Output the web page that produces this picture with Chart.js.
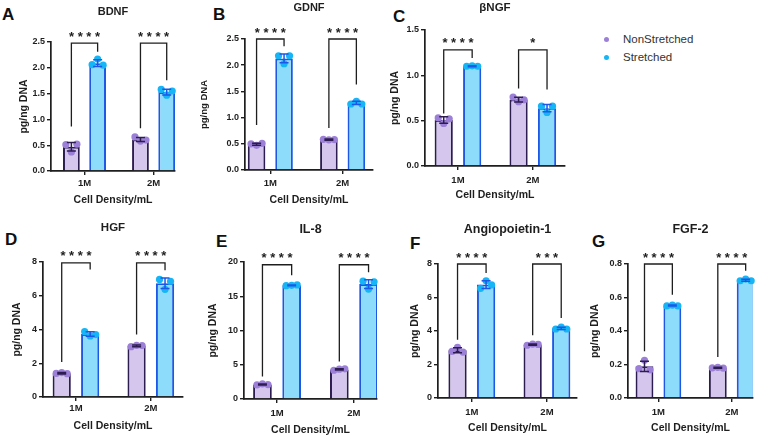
<!DOCTYPE html>
<html>
<head>
<meta charset="utf-8">
<script src="https://cdn.jsdelivr.net/npm/chart.js@4.4.1/dist/chart.umd.min.js"></script>
<style>
  body { margin: 0; width: 764px; height: 438px; position: relative; overflow: hidden; background: #fff;
         font-family: "Liberation Sans", Arial, sans-serif; }
  canvas { position: absolute; }
  .tag { position: absolute; font-weight: bold; font-size: 17px; line-height: 17px; color: #111; }
  .key { position: absolute; left: 604px; height: 16px; line-height: 16px; padding-left: 19px;
         font-size: 11.5px; color: #333; }
  .key span { position: absolute; left: 0; top: 5.5px; width: 5px; height: 5px; border-radius: 50%; }
</style>
</head>
<body>
<script>
const categories = ['1M', '2M'];
const groups = ['NonStretched', 'Stretched'];

// A - BDNF
const bdnfNon = [0.47, 0.61];
const bdnfStr = [2.09, 1.53];
const bdnfNonSd = [0.08, 0.04];
const bdnfStrSd = [0.065, 0.055];
const bdnfNonPts = [[0.51, 0.37, 0.52], [0.66, 0.58, 0.60]];
const bdnfStrPts = [[2.06, 2.17, 2.05], [1.58, 1.47, 1.55]];
const bdnfTicks = ['0.0', '0.5', '1.0', '1.5', '2.0', '2.5'];
const bdnfSig = ['****', '****'];
const bdnfBrackets = [[0.86, 2.31, 2.48], [0.83, 1.76, 2.48]];

// B - GDNF
const gdnfNon = [0.49, 0.58];
const gdnfStr = [2.13, 1.28];
const gdnfNonSd = [0.02, 0.01];
const gdnfStrSd = [0.085, 0.03];
const gdnfNonPts = [[0.50, 0.47, 0.51], [0.585, 0.575, 0.58]];
const gdnfStrPts = [[2.18, 2.03, 2.18], [1.26, 1.31, 1.26]];
const gdnfTicks = ['0.0', '0.5', '1.0', '1.5', '2.0', '2.5'];
const gdnfSig = ['****', '****'];
const gdnfBrackets = [[0.86, 2.36, 2.5], [0.80, 1.63, 2.5]];

// C - βNGF
const ngfNon = [0.507, 0.733];
const ngfStr = [1.10, 0.637];
const ngfNonSd = [0.035, 0.026];
const ngfStrSd = [0.005, 0.04];
const ngfNonPts = [[0.53, 0.47, 0.52], [0.76, 0.71, 0.73]];
const ngfStrPts = [[1.10, 1.105, 1.10], [0.66, 0.59, 0.66]];
const ngfTicks = ['0.0', '0.5', '1.0', '1.5'];
const ngfSig = ['****', '*'];
const ngfBrackets = [[0.58, 1.19, 1.28], [0.855, 0.845, 1.28]];

// D - HGF
const hgfNon = [1.41, 3.03];
const hgfStr = [3.73, 6.74];
const hgfNonSd = [0.04, 0.045];
const hgfStrSd = [0.13, 0.31];
const hgfNonPts = [[1.40, 1.45, 1.38], [2.98, 3.06, 3.05]];
const hgfStrPts = [[3.88, 3.62, 3.70], [6.97, 6.38, 6.86]];
const hgfTicks = ['0', '2', '4', '6', '8'];
const hgfSig = ['****', '****'];
const hgfBrackets = [[2.08, 7.55, 7.95], [3.70, 7.51, 7.95]];

// E - IL-8
const il8Non = [2.12, 4.32];
const il8Str = [16.6, 16.78];
const il8NonSd = [0.08, 0.1];
const il8StrSd = [0.05, 0.64];
const il8NonPts = [[2.05, 2.2, 2.1], [4.2, 4.35, 4.4]];
const il8StrPts = [[16.55, 16.6, 16.65], [17.2, 16.05, 17.1]];
const il8Ticks = ['0', '5', '10', '15', '20'];
const il8Sig = ['****', '****'];
const il8Brackets = [[3.3, 18.06, 19.6], [5.47, 18.5, 19.6]];

// F - Angiopoietin-1
const angNon = [2.85, 3.19];
const angStr = [6.77, 4.16];
const angNonSd = [0.15, 0.04];
const angStrSd = [0.23, 0.07];
const angNonPts = [[2.78, 3.02, 2.74], [3.15, 3.22, 3.2]];
const angStrPts = [[6.55, 7.0, 6.75], [4.12, 4.24, 4.12]];
const angTicks = ['0', '2', '4', '6', '8'];
const angSig = ['****', '***'];
const angBrackets = [[3.48, 7.46, 8.0], [3.74, 4.78, 8.0]];

// G - FGF-2
const fgfNon = [0.189, 0.18];
const fgfStr = [0.552, 0.703];
const fgfNonSd = [0.031, 0.003];
const fgfStrSd = [0.003, 0.006];
const fgfNonPts = [[0.175, 0.225, 0.168], [0.18, 0.183, 0.178]];
const fgfStrPts = [[0.55, 0.555, 0.55], [0.70, 0.71, 0.70]];
const fgfTicks = ['0.0', '0.2', '0.4', '0.6', '0.8'];
const fgfSig = ['****', '****'];
const fgfBrackets = [[0.279, 0.617, 0.80], [0.245, 0.76, 0.80]];

const ink = '#1e1e1e';
const family = '"Liberation Sans", Arial, sans-serif';
const purple = { fill: '#d4c6ec', edge: '#2c1c50', dot: '#9c80d8' };
const blue = { fill: '#8edcfb', edge: '#1c57e6', dot: '#16b5f5' };

Chart.defaults.font.family = family;
Chart.defaults.color = ink;

// where each panel sits on the page (pixels) and how its x range is framed
const panels = [
  { tag: 'A', tagX: 2, tagY: 6, title: 'BDNF', titleSize: 11, yTitleSize: 10.5,
    non: bdnfNon, str: bdnfStr, nonSd: bdnfNonSd, strSd: bdnfStrSd, nonPts: bdnfNonPts, strPts: bdnfStrPts,
    ticks: bdnfTicks, sig: bdnfSig, brackets: bdnfBrackets,
    top: 0, L: 51, T: 42, R: 175, B: 171, titleY: 12, tickY: 183, xTitleY: 200, yTitleX: 24, xMin: 0.515, xMax: 2.31 },
  { tag: 'B', tagX: 213, tagY: 6, title: 'GDNF', titleSize: 11, yTitleSize: 9.5,
    non: gdnfNon, str: gdnfStr, nonSd: gdnfNonSd, strSd: gdnfStrSd, nonPts: gdnfNonPts, strPts: gdnfStrPts,
    ticks: gdnfTicks, sig: gdnfSig, brackets: gdnfBrackets,
    top: 0, L: 245, T: 39, R: 373, B: 170, titleY: 7.5, tickY: 183, xTitleY: 200, yTitleX: 204, xMin: 0.65, xMax: 2.42 },
  { tag: 'C', tagX: 393, tagY: 8, title: 'βNGF', titleSize: 11.5, yTitleSize: 10.5,
    non: ngfNon, str: ngfStr, nonSd: ngfNonSd, strSd: ngfStrSd, nonPts: ngfNonPts, strPts: ngfStrPts,
    ticks: ngfTicks, sig: ngfSig, brackets: ngfBrackets,
    top: 0, L: 425, T: 30, R: 565, B: 166, titleY: 8, tickY: 180, xTitleY: 195, yTitleX: 395, xMin: 0.56, xMax: 2.43 },
  { tag: 'D', tagX: 5, tagY: 231, title: 'HGF', titleSize: 11.5, yTitleSize: 10.5,
    non: hgfNon, str: hgfStr, nonSd: hgfNonSd, strSd: hgfStrSd, nonPts: hgfNonPts, strPts: hgfStrPts,
    ticks: hgfTicks, sig: hgfSig, brackets: hgfBrackets,
    top: 215, L: 43, T: 262, R: 183, B: 397, titleY: 228, tickY: 408, xTitleY: 426, yTitleX: 17, xMin: 0.56, xMax: 2.43 },
  { tag: 'E', tagX: 216, tagY: 233, title: 'IL-8', titleSize: 12.5, yTitleSize: 10.5,
    non: il8Non, str: il8Str, nonSd: il8NonSd, strSd: il8StrSd, nonPts: il8NonPts, strPts: il8StrPts,
    ticks: il8Ticks, sig: il8Sig, brackets: il8Brackets,
    top: 215, L: 244, T: 262, R: 377, B: 399, titleY: 230, tickY: 413, xTitleY: 430, yTitleX: 213, xMin: 0.57, xMax: 2.30 },
  { tag: 'F', tagX: 410, tagY: 235, title: 'Angiopoietin-1', titleSize: 12.5, yTitleSize: 10.5,
    non: angNon, str: angStr, nonSd: angNonSd, strSd: angStrSd, nonPts: angNonPts, strPts: angStrPts,
    ticks: angTicks, sig: angSig, brackets: angBrackets,
    top: 215, L: 438, T: 264, R: 577, B: 398, titleY: 230, tickY: 412, xTitleY: 428, yTitleX: 415, xMin: 0.55, xMax: 2.4 },
  { tag: 'G', tagX: 592, tagY: 233, title: 'FGF-2', titleSize: 12.5, yTitleSize: 10.5,
    non: fgfNon, str: fgfStr, nonSd: fgfNonSd, strSd: fgfStrSd, nonPts: fgfNonPts, strPts: fgfStrPts,
    ticks: fgfTicks, sig: fgfSig, brackets: fgfBrackets,
    top: 215, L: 628, T: 264, R: 753, B: 398, titleY: 230, tickY: 412, xTitleY: 428, yTitleX: 595, xMin: 0.585, xMax: 2.29 },
];

// dots, error bars and significance brackets on top of the bars
const marksFor = (p) => ({
  id: 'marks',
  afterDatasetsDraw(chart) {
    const { ctx } = chart;
    const y = chart.scales.y;
    const sds = [p.nonSd, p.strSd];
    const pts = [p.nonPts, p.strPts];
    const dots = [purple.dot, blue.dot];
    ctx.save();
    chart.data.datasets.forEach((ds, d) => {
      chart.getDatasetMeta(d).data.forEach((bar, i) => {
        ctx.fillStyle = dots[d];
        pts[d][i].forEach((v, k) => {
          ctx.beginPath();
          ctx.arc(bar.x + (k - 1) * 5.5, y.getPixelForValue(v), 3.6, 0, Math.PI * 2);
          ctx.fill();
        });
        const mean = ds.data[i].y;
        const hi = y.getPixelForValue(mean + sds[d][i]);
        const lo = y.getPixelForValue(mean - sds[d][i]);
        ctx.strokeStyle = ds.borderColor;
        ctx.lineWidth = 1.5;
        ctx.beginPath();
        ctx.moveTo(bar.x, hi); ctx.lineTo(bar.x, lo);
        ctx.moveTo(bar.x - 4.5, hi); ctx.lineTo(bar.x + 4.5, hi);
        ctx.moveTo(bar.x - 4.5, lo); ctx.lineTo(bar.x + 4.5, lo);
        ctx.stroke();
      });
    });

    const left = chart.getDatasetMeta(0).data;
    const right = chart.getDatasetMeta(1).data;
    ctx.strokeStyle = ink;
    ctx.fillStyle = ink;
    ctx.lineWidth = 1.3;
    ctx.font = 'bold 13px ' + family;
    ctx.textAlign = 'center';
    ctx.textBaseline = 'alphabetic';
    p.brackets.forEach(([lo, ro, top], i) => {
      const xl = left[i].x, xr = right[i].x;
      const yt = y.getPixelForValue(top);
      ctx.beginPath();
      ctx.moveTo(xl, y.getPixelForValue(lo));
      ctx.lineTo(xl, yt);
      ctx.lineTo(xr, yt);
      ctx.lineTo(xr, y.getPixelForValue(ro));
      ctx.stroke();
      ctx.fillText(p.sig[i].split('').join(' '), (xl + xr) / 2, yt - 2.5);
    });
    ctx.restore();
  }
});

panels.forEach((p) => {
  const tag = document.createElement('div');
  tag.className = 'tag';
  tag.textContent = p.tag;
  tag.style.left = p.tagX + 'px';
  tag.style.top = p.tagY + 'px';
  document.body.appendChild(tag);

  const cx = Math.round(p.yTitleX - 8);
  const cy = p.top;
  const canvas = document.createElement('canvas');
  canvas.width = Math.round(p.R + 7 - cx);
  canvas.height = Math.round(p.xTitleY + 8.3 - cy);
  canvas.style.left = cx + 'px';
  canvas.style.top = cy + 'px';
  document.body.appendChild(canvas);

  const yw = p.L - cx;
  const xh = cy + canvas.height - p.B;
  const padRight = cx + canvas.width - p.R;
  const padTop = p.titleY - cy - 0.6 * p.titleSize;
  const titleGap = p.T - cy - padTop - 1.2 * p.titleSize;
  const yTitlePad = p.yTitleX - cx - 0.6 * p.yTitleSize;
  const yMax = Number(p.ticks[p.ticks.length - 1]);

  new Chart(canvas, {
    type: 'bar',
    data: {
      datasets: [
        { label: groups[0], data: p.non.map((v, i) => ({ x: i + 1, y: v })),
          backgroundColor: purple.fill, borderColor: purple.edge, borderWidth: 2,
          categoryPercentage: 0.76, barPercentage: 0.64 },
        { label: groups[1], data: p.str.map((v, i) => ({ x: i + 1, y: v })),
          backgroundColor: blue.fill, borderColor: blue.edge, borderWidth: 2,
          categoryPercentage: 0.76, barPercentage: 0.64 },
      ],
    },
    options: {
      responsive: false,
      animation: false,
      layout: { padding: { top: padTop, right: padRight, left: 0, bottom: 0 } },
      plugins: {
        legend: { display: false },
        tooltip: { enabled: false },
        title: {
          display: true, text: p.title, fullSize: false, color: ink,
          font: { size: p.titleSize, weight: 'bold' },
          padding: { top: 0, bottom: titleGap },
        },
      },
      scales: {
        x: {
          type: 'linear', min: p.xMin, max: p.xMax, offset: false, z: 1,
          afterBuildTicks: (axis) => { axis.ticks = categories.map((c, i) => ({ value: i + 1 })); },
          afterFit: (axis) => { axis.height = xh; },
          grid: { drawOnChartArea: false, drawTicks: true, tickLength: 4, color: ink, lineWidth: 1.4, offset: false },
          border: { display: true, color: ink, width: 1.7 },
          ticks: {
            callback: (v) => categories[v - 1], color: ink, autoSkip: false, maxRotation: 0,
            font: { size: 9.5, weight: 'bold' }, padding: p.tickY - p.B - 9.7,
          },
          title: {
            display: true, text: 'Cell Density/mL', color: ink,
            font: { size: 10.5, weight: 'bold' }, padding: { top: 0, bottom: 2 },
          },
        },
        y: {
          min: 0, max: yMax,
          afterBuildTicks: (axis) => { axis.ticks = p.ticks.map((t) => ({ value: Number(t) })); },
          afterFit: (axis) => { axis.width = yw; },
          grid: { drawOnChartArea: false, drawTicks: true, tickLength: 4, color: ink, lineWidth: 1.4 },
          border: { display: true, color: ink, width: 1.7 },
          ticks: {
            callback: (v, i) => p.ticks[i], color: ink,
            font: { size: 9, weight: 'bold' }, padding: 2,
          },
          title: {
            display: true, text: 'pg/ng DNA', color: ink,
            font: { size: p.yTitleSize, weight: 'bold' }, padding: { top: yTitlePad, bottom: 0 },
          },
        },
      },
    },
    plugins: [marksFor(p)],
  });
});

// shared legend
[purple, blue].forEach((c, i) => {
  const row = document.createElement('div');
  row.className = 'key';
  row.style.top = (31 + i * 18) + 'px';
  const dot = document.createElement('span');
  dot.style.background = c.dot;
  row.appendChild(dot);
  row.appendChild(document.createTextNode(groups[i]));
  document.body.appendChild(row);
});
</script>
</body>
</html>
